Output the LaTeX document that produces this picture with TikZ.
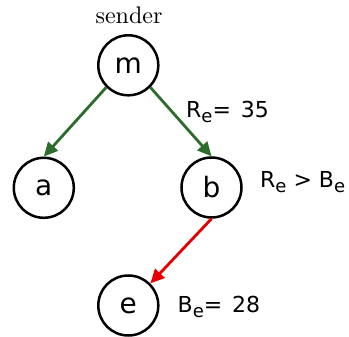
\documentclass[tikz,border=0pt]{standalone}
\usepackage{fontspec}
\newfontfamily\dejavu{DejaVu Sans}
\newfontfamily\lmten[Extension=.otf]{lmroman10-regular}
\usetikzlibrary{arrows.meta}
\definecolor{edgegreen}{RGB}{44,108,44}
\definecolor{edgered}{RGB}{228,0,0}
\newcommand{\sbe}{\raisebox{-5pt}{\fontsize{18}{18}\selectfont e}}
\begin{document}
\begin{tikzpicture}[x=1pt,y=-1pt,
  vert/.style={circle,draw=black,line width=2.5pt,minimum size=60pt,inner sep=0pt,
    font=\dejavu\fontsize{28}{28}\selectfont},
  lbl/.style={anchor=base west,inner sep=0pt,font=\dejavu\fontsize{22}{22}\selectfont},
  edge/.style={line width=2.8pt,-{Triangle[length=14pt,width=13pt]}}]
\useasboundingbox (0,0) rectangle (349,337);
\node[vert] (m) at (128.3,65.3) {m};
\node[vert] (a) at (43.8,187.8) {a};
\node[vert] (b) at (211.5,187.5) {b};
\node[vert] (e) at (128.3,305.5) {e};
\node[anchor=base,inner sep=0pt,font=\lmten\fontsize{24}{24}\selectfont] (snd) at (129,24) {sender};
\node[lbl] (l1) at (186,118) {R\sbe=\hspace{0.45em}35};
\node[lbl] (l2) at (260,188) {R\sbe{} > B\sbe};
\node[lbl] (l3) at (177.5,313) {B\sbe=\hspace{0.45em}28};
\draw[edge,edgegreen] (m.south west) -- (a.north);
\draw[edge,edgegreen] (m.south east) -- (b.north);
\draw[edge,edgered] (b.south) -- (e.north east);
\end{tikzpicture}
\end{document}
